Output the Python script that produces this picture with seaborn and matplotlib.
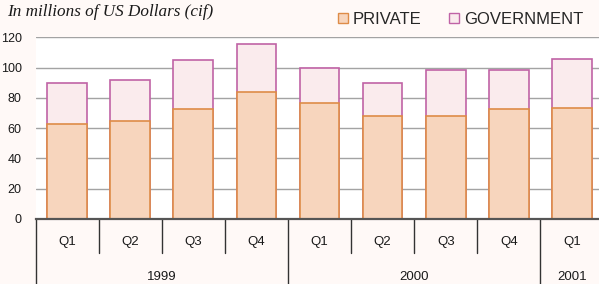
import matplotlib
matplotlib.use("Agg")
import matplotlib.pyplot as plt
import seaborn as sns
import pandas as pd
from matplotlib.patches import Patch

years = ["1999", "1999", "1999", "1999", "2000", "2000", "2000", "2000", "2001"]
quarters = ["Q1", "Q2", "Q3", "Q4", "Q1", "Q2", "Q3", "Q4", "Q1"]
private = [63, 64.5, 72.5, 84, 76.5, 68, 68, 72.5, 73.5]
government = [26.5, 27.5, 32.5, 31.5, 23.5, 22, 30.5, 26, 32]
y_ticks = [0, 20, 40, 60, 80, 100, 120]
title = "In millions of US Dollars (cif)"

periods = [f"{y} {q}" for y, q in zip(years, quarters)]
df = pd.DataFrame({
    "period": periods,
    "private": private,
    "total": [p + g for p, g in zip(private, government)],
})

sns.set_style("white")
plt.rcParams["font.family"] = ["Liberation Sans", "DejaVu Sans"]

fig = plt.figure(figsize=(5.99, 2.84), dpi=100, facecolor="#FFF9F7")
ax = fig.add_axes([35.5 / 599, 0.2289, 568 / 599, 0.6398])
ax.set_facecolor("white")

priv_face, priv_edge = "#F7D5BD", "#DE8C48"
gov_face, gov_edge = "#FAEBED", "#C063A6"

sns.barplot(data=df, x="period", y="total", order=periods, color=gov_face,
            edgecolor=gov_edge, linewidth=1.2, width=0.63, saturation=1,
            ax=ax, zorder=3)
sns.barplot(data=df, x="period", y="private", order=periods, color=priv_face,
            edgecolor=priv_edge, linewidth=1.2, width=0.63, saturation=1,
            ax=ax, zorder=4)

ax.set_xlim(-0.5, len(periods) - 0.5)
ax.set_ylim(0, 120)
ax.set_yticks(y_ticks)
ax.set_yticklabels([str(t) for t in y_ticks], fontsize=9, color="#1a1a1a")
ax.tick_params(axis="y", length=0, pad=10)
ax.tick_params(axis="x", length=0, labelbottom=False)
ax.set_xlabel("")
ax.set_ylabel("")
ax.yaxis.grid(True, color="#a3a3a3", linewidth=1.0, zorder=0)
ax.set_axisbelow(True)
for s in ["top", "right", "left"]:
    ax.spines[s].set_visible(False)
ax.spines["bottom"].set_color("#555555")
ax.spines["bottom"].set_linewidth(1.6)
ax.spines["bottom"].set_zorder(6)

# category table below the axis
tr = ax.get_xaxis_transform()
n = len(periods)
for i in range(n):
    ax.text(i, -0.124, quarters[i], transform=tr, ha="center", va="center",
            fontsize=9.5, color="#1a1a1a")
for i in range(n):
    bx = i - 0.5
    is_year_edge = i == 0 or years[i] != years[i - 1]
    y_end = -0.36 if is_year_edge else -0.187
    ax.plot([bx, bx], [0, y_end], transform=tr, color="#333333", lw=1.0,
            clip_on=False, zorder=6)
# year labels
start = 0
for i in range(1, n + 1):
    if i == n or years[i] != years[start]:
        ax.text((start + i - 1) / 2, -0.318, years[start], transform=tr,
                ha="center", va="center", fontsize=9.5, color="#1a1a1a")
        start = i

fig.text(7 / 599, 1 - 12 / 284, title, ha="left", va="center",
         fontsize=12.3, style="italic", family=["Liberation Serif"],
         color="#1a1a1a")

handles = [Patch(facecolor=priv_face, edgecolor=priv_edge, lw=1.0, label="PRIVATE"),
           Patch(facecolor=gov_face, edgecolor=gov_edge, lw=1.0, label="GOVERNMENT")]
fig.legend(handles=handles, loc="center left", bbox_to_anchor=(338 / 599, 1 - 19.5 / 284),
           ncol=2, frameon=False, fontsize=12, handlelength=0.6, handleheight=0.6,
           handletextpad=0.3, columnspacing=1.65, borderpad=0, borderaxespad=0)

fig.savefig("out.png", dpi=100, facecolor=fig.get_facecolor())
